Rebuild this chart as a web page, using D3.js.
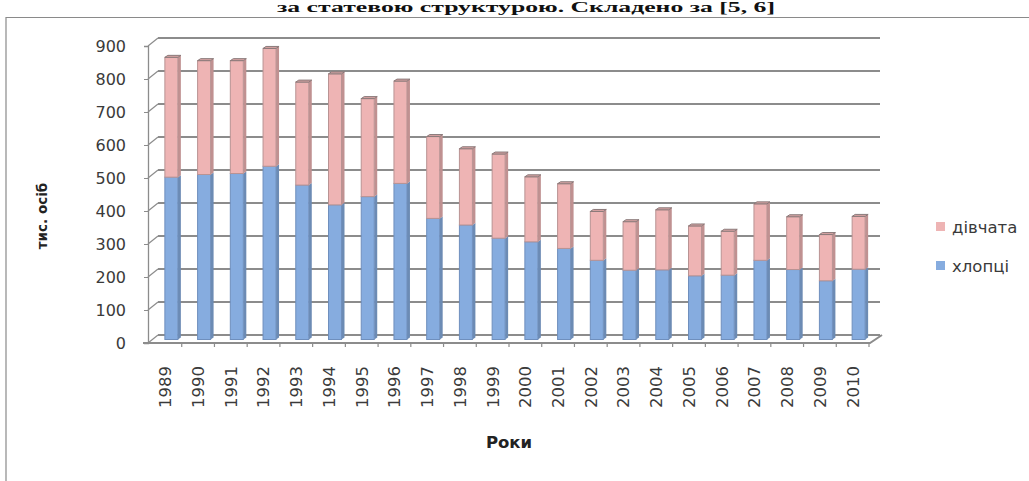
<!DOCTYPE html>
<html>
<head>
<meta charset="utf-8">
<script src="https://cdn.jsdelivr.net/npm/d3@7"></script>
<style>
  html, body { margin: 0; padding: 0; background: #fff; }
  svg { display: block; }
</style>
</head>
<body>
<svg id="chart" width="1029" height="481"></svg>
<script>
// Чисельність молоді за статтю, тис. осіб
const years = ["1989","1990","1991","1992","1993","1994","1995","1996","1997","1998","1999",
               "2000","2001","2002","2003","2004","2005","2006","2007","2008","2009","2010"];
const boys  = [492, 500, 503, 525, 468, 408, 433, 473, 367, 347, 307,
               296, 276, 240, 210, 211, 193, 195, 240, 212, 178, 213];
const girls = [363, 345, 342, 357, 312, 397, 297, 310, 248, 231, 255,
               197, 196, 148, 147, 182, 151, 133, 171, 160, 140, 160];
const yTicks = [0, 100, 200, 300, 400, 500, 600, 700, 800, 900];
const seriesNames = ["хлопці", "дівчата"];
const seriesColors = ["#86acdf", "#eeb4b4"];
const seriesEdges = ["#6f8fbd", "#b99393"];

const svg = d3.select("#chart");

// outer frame
svg.append("path")
  .attr("d", "M6,481 V17.5 H1029")
  .attr("fill", "none").attr("stroke", "#8a8a8a").attr("stroke-width", 1.2);

// caption line above the frame
svg.append("text")
  .attr("x", 277).attr("y", 12)
  .attr("textLength", 498).attr("lengthAdjust", "spacingAndGlyphs")
  .attr("font-family", "Liberation Serif")
  .attr("font-weight", "bold")
  .attr("font-size", 14)
  .attr("fill", "#111")
  .text("за статевою структурою. Складено за [5, 6]");

// 3D geometry: front plane, back wall and plane of the columns
const depthDx = 10, depthDy = -8;
const barDx = 6, barDy = -3.5;
const front0 = 343;

const x = d3.scaleBand().domain(years).range([149, 869]).paddingInner(0).paddingOuter(0);
const yFront = d3.scaleLinear().domain([0, 900]).range([front0, front0 - 297]);
const barW = 13;

const grid = svg.append("g");
// back-wall and side-wall gridlines
yTicks.forEach(v => {
  const yf = yFront(v);
  grid.append("line")
    .attr("x1", 148).attr("y1", yf)
    .attr("x2", 148 + depthDx).attr("y2", yf + depthDy)
    .attr("stroke", "#8c8c8c").attr("stroke-width", 1.2);
  grid.append("line")
    .attr("x1", 148 + depthDx).attr("y1", yf + depthDy)
    .attr("x2", 880).attr("y2", yf + depthDy)
    .attr("stroke", "#8c8c8c").attr("stroke-width", 1.8);
});

// floor outline
grid.append("path")
  .attr("d", `M143,${front0} H870 L${870 + depthDx + 2},${front0 + depthDy}`)
  .attr("fill", "none").attr("stroke", "#8c8c8c").attr("stroke-width", 2);

// vertical axis on the front plane
const yAxis = d3.axisLeft(yFront).tickValues(yTicks).tickSize(4).tickPadding(18);
svg.append("g")
  .attr("transform", "translate(148,0)")
  .call(yAxis)
  .call(g => g.select(".domain").attr("stroke", "#8c8c8c").attr("stroke-width", 1.3))
  .call(g => g.selectAll(".tick line").attr("stroke", "#8c8c8c"))
  .call(g => g.selectAll("text")
    .attr("font-family", "DejaVu Sans").attr("font-size", 16).attr("fill", "#3a3a3a"));

// category axis on the front floor edge
const xAxis = d3.axisBottom(x).tickSize(0).tickPadding(0);
svg.append("g")
  .attr("transform", `translate(0,${front0})`)
  .call(xAxis)
  .call(g => g.select(".domain").remove())
  .call(g => g.selectAll("text")
    .attr("transform", "rotate(-90)")
    .attr("x", -23).attr("y", 0).attr("dy", "0.36em")
    .attr("text-anchor", "end")
    .attr("font-family", "DejaVu Sans").attr("font-size", 16.5).attr("fill", "#3a3a3a"));

// tick marks between categories
svg.append("g").selectAll("line")
  .data(years.slice(1).concat(["end"]))
  .join("line")
  .attr("x1", (d, i) => x(years[0]) + x.step() * (i + 1))
  .attr("x2", (d, i) => x(years[0]) + x.step() * (i + 1))
  .attr("y1", front0).attr("y2", front0 + 4)
  .attr("stroke", "#8c8c8c").attr("stroke-width", 1.2);

// stacked columns
const rows = years.map((yr, i) => ({ year: yr, "хлопці": boys[i], "дівчата": girls[i] }));
const stacked = d3.stack().keys(seriesNames)(rows);
const yBar = v => yFront(v) + barDy;
const capDx = 3, capDy = -2;

const bars = svg.append("g");
stacked.forEach((layer, li) => {
  const g = bars.append("g");
  layer.forEach(d => {
    const cx = x(d.data.year) + x.bandwidth() / 2 + barDx;
    const x0 = cx - barW / 2;
    const y0 = yBar(d[0]), y1 = yBar(d[1]);
    // side face
    g.append("path")
      .attr("d", `M${x0 + barW},${y1} L${x0 + barW + capDx},${y1 + capDy} L${x0 + barW + capDx},${y0 + capDy} L${x0 + barW},${y0} Z`)
      .attr("fill", d3.color(seriesColors[li]).darker(0.6));
    // front face
    g.append("rect")
      .attr("x", x0).attr("y", y1)
      .attr("width", barW).attr("height", y0 - y1)
      .attr("fill", seriesColors[li])
      .attr("stroke", seriesEdges[li]).attr("stroke-width", 1);
    // top cap on the upper segment
    if (li === stacked.length - 1) {
      g.append("path")
        .attr("d", `M${x0},${y1} L${x0 + capDx},${y1 + capDy} L${x0 + barW + capDx},${y1 + capDy} L${x0 + barW},${y1} Z`)
        .attr("fill", d3.color(seriesColors[li]).darker(0.3))
        .attr("stroke", "#8a7a7a").attr("stroke-width", 1);
    }
  });
});

// axis titles
svg.append("text")
  .attr("transform", "translate(47,216) rotate(-90)")
  .attr("text-anchor", "middle")
  .attr("font-family", "DejaVu Sans").attr("font-weight", "bold")
  .attr("font-size", 13.5).attr("fill", "#222")
  .text("тис. осіб");

svg.append("text")
  .attr("x", 509).attr("y", 448)
  .attr("text-anchor", "middle")
  .attr("font-family", "DejaVu Sans").attr("font-weight", "bold")
  .attr("font-size", 16.5).attr("fill", "#222")
  .text("Роки");

// legend
const legendItems = [
  { name: "дівчата", color: seriesColors[1], y: 227 },
  { name: "хлопці", color: seriesColors[0], y: 266 }
];
const legend = svg.append("g");
legendItems.forEach(it => {
  legend.append("rect")
    .attr("x", 936).attr("y", it.y - 5).attr("width", 9).attr("height", 9)
    .attr("fill", it.color);
  legend.append("text")
    .attr("x", 952).attr("y", it.y).attr("dy", "0.35em")
    .attr("font-family", "DejaVu Sans").attr("font-size", 16.5).attr("fill", "#3a3a3a")
    .text(it.name);
});
</script>
</body>
</html>
